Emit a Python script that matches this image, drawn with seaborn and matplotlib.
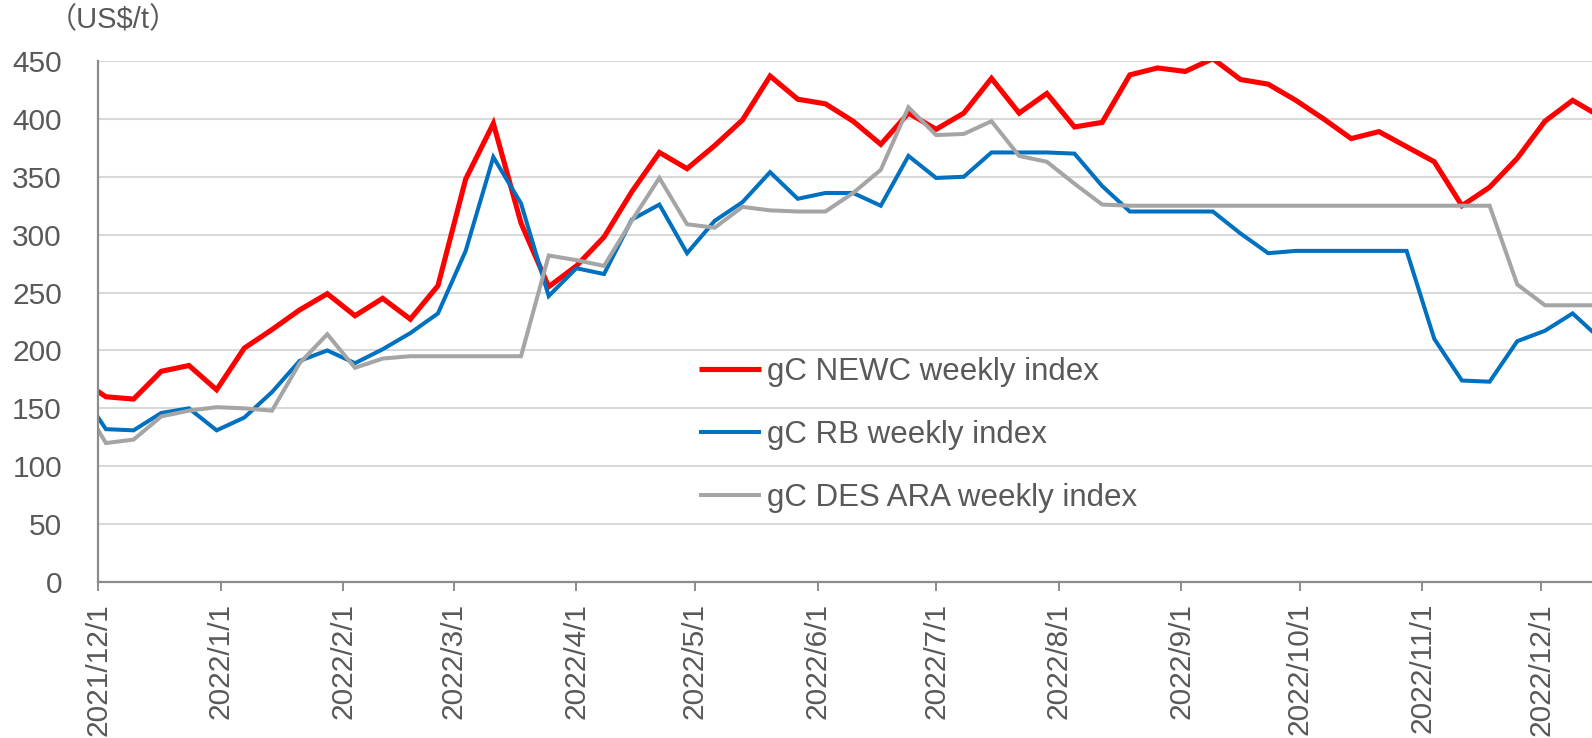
import matplotlib
matplotlib.use("Agg")
import matplotlib.pyplot as plt
import matplotlib.dates as mdates
import pandas as pd
import seaborn as sns

# weekly (Friday) index values, US$/t
weeks = pd.date_range("2021-11-26", "2022-12-16", freq="W-FRI")

newc = [176, 160, 158, 182, 187, 166, 202, 218, 235, 249, 230, 245, 227, 256,
        348, 396, 310, 255, 273, 298, 337, 371, 357, 377, 399, 437, 417, 413,
        398, 378, 405, 391, 405, 435, 405, 422, 393, 397, 438, 444, 441, 452,
        434, 430, 416, 400, 383, 389, 376, 363, 325, 341, 366, 398, 416, 402]

rb = [168, 132, 131, 146, 150, 131, 142, 164, 191, 200, 189, 201, 215, 232,
      286, 367, 327, 247, 271, 266, 313, 326, 284, 312, 328, 354, 331, 336,
      336, 325, 368, 349, 350, 371, 371, 371, 370, 342, 320, 320, 320, 320,
      301, 284, 286, 286, 286, 286, 286, 210, 174, 173, 208, 217, 232, 210]

des_ara = [160, 120, 123, 143, 148, 151, 150, 148, 189, 214, 185, 193, 195, 195,
           195, 195, 195, 282, 278, 273, 312, 349, 309, 306, 324, 321, 320, 320,
           336, 356, 410, 386, 387, 398, 368, 363, 344, 326, 325, 325, 325, 325,
           325, 325, 325, 325, 325, 325, 325, 325, 325, 325, 257, 239, 239, 239]

series_names = ["gC NEWC weekly index", "gC RB weekly index", "gC DES ARA weekly index"]
series_colors = ["#FF0000", "#0070C0", "#A5A5A5"]
series_widths = [3.7, 2.9, 2.9]
tick_dates = pd.date_range("2021-12-01", "2022-12-01", freq="MS")
yticks = list(range(0, 451, 50))

TEXT = "#595959"

sns.set_theme(style="white")
plt.rcParams["font.family"] = ["Liberation Sans", "Noto Sans CJK JP", "DejaVu Sans"]

fig = plt.figure(figsize=(15.92, 7.38), dpi=100)
ax = fig.add_axes([98 / 1592, 1 - 582 / 738, 1 - 98 / 1592, (582 - 61) / 738])

df = pd.DataFrame({"date": weeks, series_names[0]: newc,
                   series_names[1]: rb, series_names[2]: des_ara})

handles = []
for name, color, lw in zip(series_names, series_colors, series_widths):
    sns.lineplot(data=df, x="date", y=name, color=color, linewidth=lw, ax=ax,
                 solid_joinstyle="miter", solid_capstyle="butt")
    handles.append(ax.lines[-1])

ax.set_xlim(pd.Timestamp("2021-12-01"), pd.Timestamp("2021-12-01") + pd.Timedelta(days=377.9))
ax.set_ylim(0, 450)
ax.set_yticks(yticks)
ax.set_xticks(tick_dates)
ax.xaxis.set_major_formatter(mdates.DateFormatter("%Y/%-m/%-d"))
ax.set_xlabel("")
ax.set_ylabel("")

ax.grid(axis="y", color="#D9D9D9", linewidth=1.5)
ax.grid(axis="x", visible=False)
ax.set_axisbelow(True)
for side in ["top", "right"]:
    ax.spines[side].set_visible(False)
for side in ["left", "bottom"]:
    ax.spines[side].set_color("#8C8C8C")
    ax.spines[side].set_linewidth(1.6)

ax.tick_params(axis="y", length=0, pad=26, labelsize=21.5, labelcolor=TEXT)
ax.tick_params(axis="x", direction="out", length=6.5, width=1.4, color="#8C8C8C",
               pad=8.5, labelsize=21.5, labelcolor=TEXT, labelrotation=90, bottom=True)

leg = ax.legend(handles, series_names, loc="upper left",
                bbox_to_anchor=(0.402, 0.432), frameon=False, fontsize=22.5,
                handlelength=2.0, handletextpad=0.2, labelspacing=1.05,
                borderpad=0, borderaxespad=0)
for t in leg.get_texts():
    t.set_color(TEXT)

fig.text(48 / 1592, 1 - 20 / 738, "（US$/t）", fontsize=21, color=TEXT,
         ha="left", va="center")

fig.savefig("out.png", dpi=100)
